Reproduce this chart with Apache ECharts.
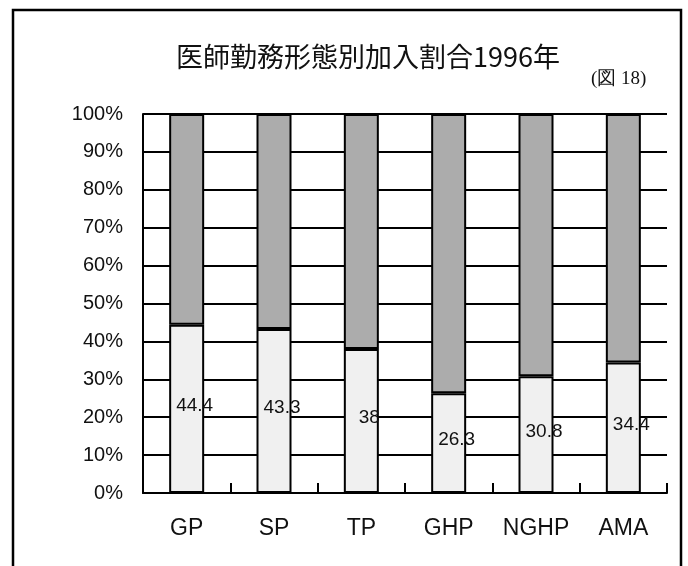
<!DOCTYPE html>
<html>
<head>
<meta charset="utf-8">
<script src="https://cdn.jsdelivr.net/npm/echarts@6/dist/echarts.min.js"></script>
<style>
  html, body { margin: 0; padding: 0; background: #fff; }
  #chart { width: 688px; height: 566px; }
</style>
</head>
<body>
<div id="chart"></div>
<script>
// Doctor work type categories
const categories = ['GP', 'SP', 'TP', 'GHP', 'NGHP', 'AMA'];
// Joined share (%), lower segment
const joined = [44.4, 43.3, 38, 26.3, 30.8, 34.4];
// Remaining share (%), upper segment
const notJoined = [55.6, 56.7, 62, 73.7, 69.2, 65.6];
const yTicks = [0, 10, 20, 30, 40, 50, 60, 70, 80, 90, 100];

const chart = echarts.init(document.getElementById('chart'));

const option = {
  backgroundColor: '#fff',
  animation: false,
  title: [
    {
      text: '医師勤務形態別加入割合1996年',
      left: 363,
      top: 38,
      textAlign: 'center',
      textStyle: { fontFamily: 'Noto Sans CJK JP', fontSize: 27, fontWeight: 'normal', color: '#111' },
    },
    {
      text: '(図 18)',
      left: 586,
      top: 65,
      textStyle: { fontFamily: 'Liberation Serif', fontSize: 19, fontWeight: 'normal', color: '#111' },
    },
  ],
  graphic: [
    {
      type: 'rect',
      shape: { x: 13, y: 10, width: 668, height: 570 },
      style: { fill: 'none', stroke: '#000', lineWidth: 2.5 },
      silent: true,
    },
  ],
  grid: { left: 143, right: 21, top: 114, bottom: 73 },
  xAxis: {
    type: 'category',
    data: categories,
    axisLine: { lineStyle: { color: '#000', width: 2 } },
    axisTick: { show: true, inside: true, interval: 0, length: 10, lineStyle: { color: '#000', width: 2 } },
    axisLabel: { interval: 0, color: '#111', fontFamily: 'Liberation Sans', fontSize: 23, margin: 24 },
  },
  yAxis: {
    type: 'value',
    min: yTicks[0],
    max: yTicks[yTicks.length - 1],
    interval: 10,
    axisLine: { show: true, lineStyle: { color: '#000', width: 2 } },
    axisTick: { show: false },
    splitLine: { lineStyle: { color: '#000', width: 2 } },
    axisLabel: { formatter: '{value}%', color: '#111', fontFamily: 'Liberation Sans', fontSize: 20, margin: 20 },
  },
  series: [
    {
      name: '加入',
      type: 'bar',
      stack: 'total',
      barWidth: 35,
      data: joined,
      itemStyle: { color: '#f0f0f0', borderColor: '#000', borderWidth: 2 },
      label: {
        show: true,
        position: 'inside',
        offset: [8, -3],
        color: '#111',
        fontFamily: 'Liberation Sans',
        fontSize: 19,
      },
    },
    {
      name: '未加入',
      type: 'bar',
      stack: 'total',
      barWidth: 35,
      data: notJoined,
      itemStyle: { color: '#acacac', borderColor: '#000', borderWidth: 2 },
    },
  ],
};

chart.setOption(option);
</script>
</body>
</html>
